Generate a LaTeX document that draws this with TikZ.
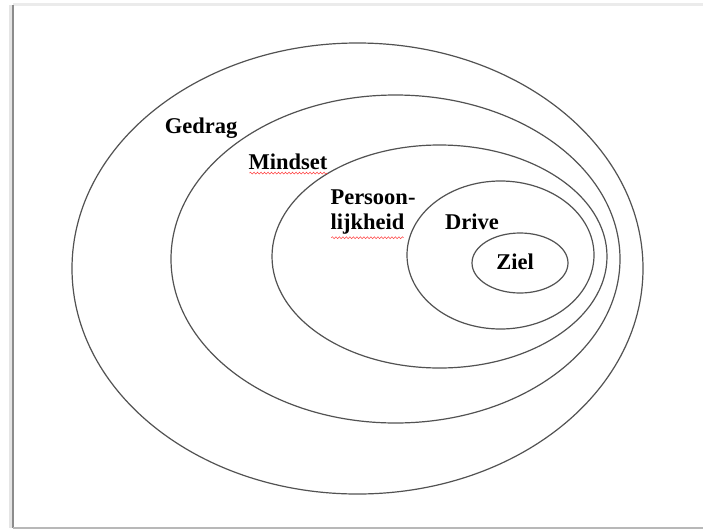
\documentclass[tikz,border=0pt]{standalone}
\usepackage{fontspec}
\setmainfont{Liberation Serif}
\usetikzlibrary{decorations.pathmorphing}
\begin{document}
\begin{tikzpicture}[x=1pt,y=-1pt,
  ring/.style={draw=black!68,line width=1.2pt},
  lbl/.style={font=\fontsize{22.5}{25.5}\selectfont\bfseries,text=black,inner sep=0pt,align=left},
  squig/.style={draw=red!75,line width=0.5pt,decorate,decoration={snake,amplitude=1pt,segment length=3.5pt}}]
\useasboundingbox (0,0) rectangle (703,530);
\fill[white] (0,0) rectangle (703,530);
% page frame
\draw[black!8,line width=3pt] (13,4) -- (703,4);
\draw[black!45,line width=2pt] (13,5) -- (13,528);
\draw[black!10,line width=3pt] (10,5) -- (10,528);
\draw[black!28,line width=1.8pt] (13,528) -- (703,528);
% rings
\draw[ring] (357.5,268.5) ellipse [x radius=285.5,y radius=225.5];
\draw[ring] (395.5,259) ellipse [x radius=224.5,y radius=164];
\draw[ring] (439.5,256.5) ellipse [x radius=167.5,y radius=111.5];
\draw[ring] (500.5,255) ellipse [x radius=93.5,y radius=74];
\draw[ring] (520,263) ellipse [x radius=48,y radius=30];
% labels
\node[lbl] (gedrag) at (201,128) {Gedrag};
\node[lbl] (mindset) at (288,162) {Mindset};
\node[lbl] (persoon) at (373,212) {Persoon-\\lijkheid};
\node[lbl] (drive) at (472,222) {Drive};
\node[lbl] (ziel) at (515,262) {Ziel};
% spelling underlines
\draw[squig] ([xshift=1pt,yshift=-3pt]mindset.south west) -- ([yshift=-3pt]mindset.south east);
\draw[squig] ([xshift=1pt,yshift=-3pt]persoon.south west) -- ([xshift=-12pt,yshift=-3pt]persoon.south east);
\end{tikzpicture}
\end{document}
